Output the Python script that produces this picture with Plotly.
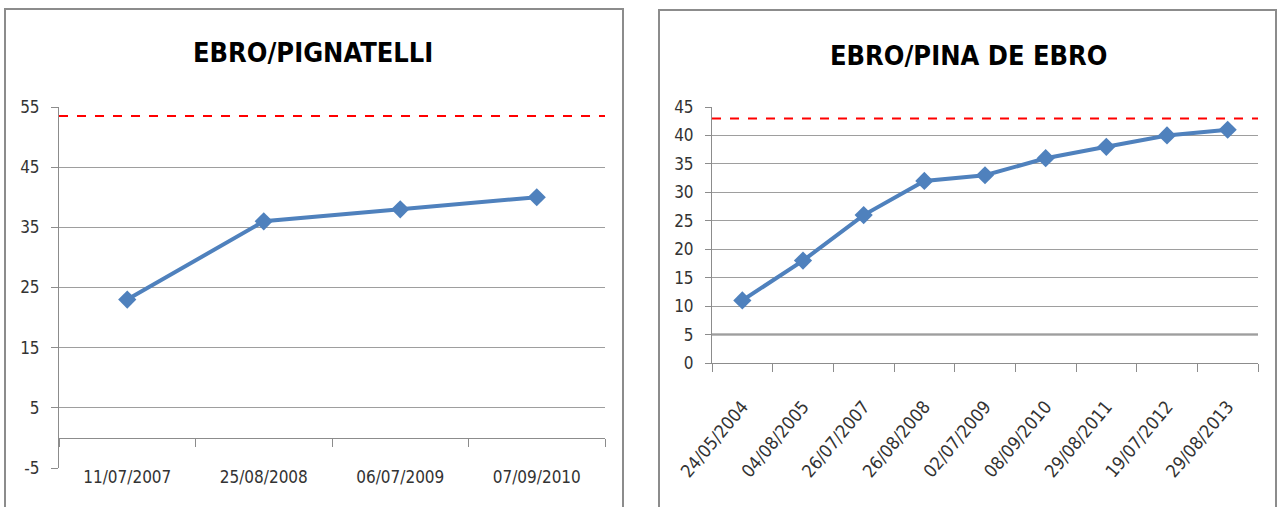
import plotly.graph_objects as go

# ---- data ----
left_title = "EBRO/PIGNATELLI"
left_dates = ["11/07/2007", "25/08/2008", "06/07/2009", "07/09/2010"]
left_values = [23, 36, 38, 40]
left_limit = 53.5
left_yticks = [-5, 5, 15, 25, 35, 45, 55]

right_title = "EBRO/PINA DE EBRO"
right_dates = ["24/05/2004", "04/08/2005", "26/07/2007", "26/08/2008", "02/07/2009",
               "08/09/2010", "29/08/2011", "19/07/2012", "29/08/2013"]
right_values = [11, 18, 26, 32, 33, 36, 38, 40, 41]
right_limit = 43
right_ref = 5
right_yticks = [0, 5, 10, 15, 20, 25, 30, 35, 40, 45]

W, H = 1279, 507
FONT = "DejaVu Sans Condensed, Liberation Sans Narrow, sans-serif"
BLUE = "#4F81BD"
GRID = "#9e9e9e"
TXT = "#333333"
AX = "#8c8c8c"

fig = go.Figure()

fig.add_trace(go.Scatter(x=left_dates, y=left_values, xaxis="x", yaxis="y",
                         mode="lines+markers",
                         line=dict(color=BLUE, width=4),
                         marker=dict(symbol="diamond", size=14, color=BLUE),
                         showlegend=False, hoverinfo="x+y"))
# invisible helper trace so the zero-line axis with boundary ticks is drawn
fig.add_trace(go.Scatter(x=list(range(len(left_dates))), y=left_values, xaxis="x3", yaxis="y",
                         mode="markers", marker=dict(opacity=0), showlegend=False,
                         hoverinfo="skip"))
fig.add_trace(go.Scatter(x=right_dates, y=right_values, xaxis="x2", yaxis="y2",
                         mode="lines+markers",
                         line=dict(color=BLUE, width=4),
                         marker=dict(symbol="diamond", size=14, color=BLUE),
                         showlegend=False, hoverinfo="x+y"))

def px_x(p):
    return p / W

def px_y(p):
    return 1 - p / H

shapes = []
shapes.append(dict(type="rect", xref="paper", yref="paper",
                   x0=px_x(5), x1=px_x(623), y0=px_y(520), y1=px_y(9),
                   line=dict(color=AX, width=2), fillcolor="rgba(0,0,0,0)", layer="below"))
shapes.append(dict(type="rect", xref="paper", yref="paper",
                   x0=px_x(659), x1=px_x(1276), y0=px_y(520), y1=px_y(10),
                   line=dict(color=AX, width=2), fillcolor="rgba(0,0,0,0)", layer="below"))
shapes.append(dict(type="line", xref="x domain", yref="y", x0=0, x1=1,
                   y0=left_limit, y1=left_limit,
                   line=dict(color="#ff0000", width=2, dash="dash")))
shapes.append(dict(type="line", xref="x2 domain", yref="y2", x0=0, x1=1,
                   y0=right_limit, y1=right_limit,
                   line=dict(color="#ff0000", width=2, dash="dash")))
shapes.append(dict(type="line", xref="x2 domain", yref="y2", x0=0, x1=1,
                   y0=right_ref, y1=right_ref, layer="below",
                   line=dict(color="#7a7a7a", width=2)))

xl = [px_x(59), px_x(605)]
xr = [px_x(712), px_x(1258)]
yl = [px_y(468), px_y(107)]
yr = [px_y(363), px_y(107)]

tickfont = dict(size=17, color=TXT, family=FONT)

fig.update_layout(
    width=W, height=H,
    margin=dict(l=0, r=0, t=0, b=0, autoexpand=False),
    paper_bgcolor="white", plot_bgcolor="rgba(0,0,0,0)",
    font=dict(family=FONT, size=17, color=TXT),
    shapes=shapes,
    xaxis=dict(domain=xl, anchor="y", type="category", categoryarray=left_dates,
               range=[-0.5, len(left_dates) - 0.5], automargin=False,
               showgrid=False, showline=False, ticks="", zeroline=False,
               ticklabelstandoff=-3, tickfont=tickfont),
    xaxis3=dict(overlaying="x", anchor="free", position=px_y(438), automargin=False,
                type="linear", range=[-0.5, len(left_dates) - 0.5],
                tickvals=[i - 0.5 for i in range(len(left_dates) + 1)],
                showticklabels=False, showgrid=False, zeroline=False,
                showline=True, linecolor=AX, linewidth=1,
                ticks="outside", ticklen=8, tickcolor=AX),
    yaxis=dict(domain=yl, anchor="x", range=[-5, 55], automargin=False,
               tickvals=left_yticks, ticktext=[str(v) for v in left_yticks],
               showgrid=True, gridcolor=GRID, gridwidth=1, zeroline=False,
               showline=True, linecolor=AX, linewidth=1,
               ticks="outside", ticklen=7, tickcolor=AX, ticklabelstandoff=8,
               tickfont=tickfont),
    xaxis2=dict(domain=xr, anchor="y2", type="category", categoryarray=right_dates,
                range=[-0.5, len(right_dates) - 0.5], automargin=False,
                tickson="boundaries", ticks="outside", ticklen=8, tickcolor=AX,
                showgrid=False, showline=True, linecolor=AX, linewidth=1,
                tickangle=-50, zeroline=False, ticklabelstandoff=25,
                tickfont=dict(size=18, color=TXT, family=FONT)),
    yaxis2=dict(domain=yr, anchor="x2", range=[0, 45], automargin=False,
                tickvals=right_yticks, ticktext=[str(v) for v in right_yticks],
                showgrid=True, gridcolor=GRID, gridwidth=1, zeroline=False,
                showline=True, linecolor=AX, linewidth=1,
                ticks="outside", ticklen=6, tickcolor=AX, ticklabelstandoff=8,
                tickfont=tickfont),
    annotations=[
        dict(text="<b>" + left_title + "</b>", xref="paper", yref="paper",
             x=px_x(313), y=px_y(53), xanchor="center", yanchor="middle",
             showarrow=False, font=dict(size=27, color="black", family=FONT)),
        dict(text="<b>" + right_title + "</b>", xref="paper", yref="paper",
             x=px_x(968), y=px_y(55), xanchor="center", yanchor="middle",
             showarrow=False, font=dict(size=27, color="black", family=FONT)),
    ],
)

fig.write_html("out.html", config={"displayModeBar": False},
               post_script="document.body.style.margin='0px';")
